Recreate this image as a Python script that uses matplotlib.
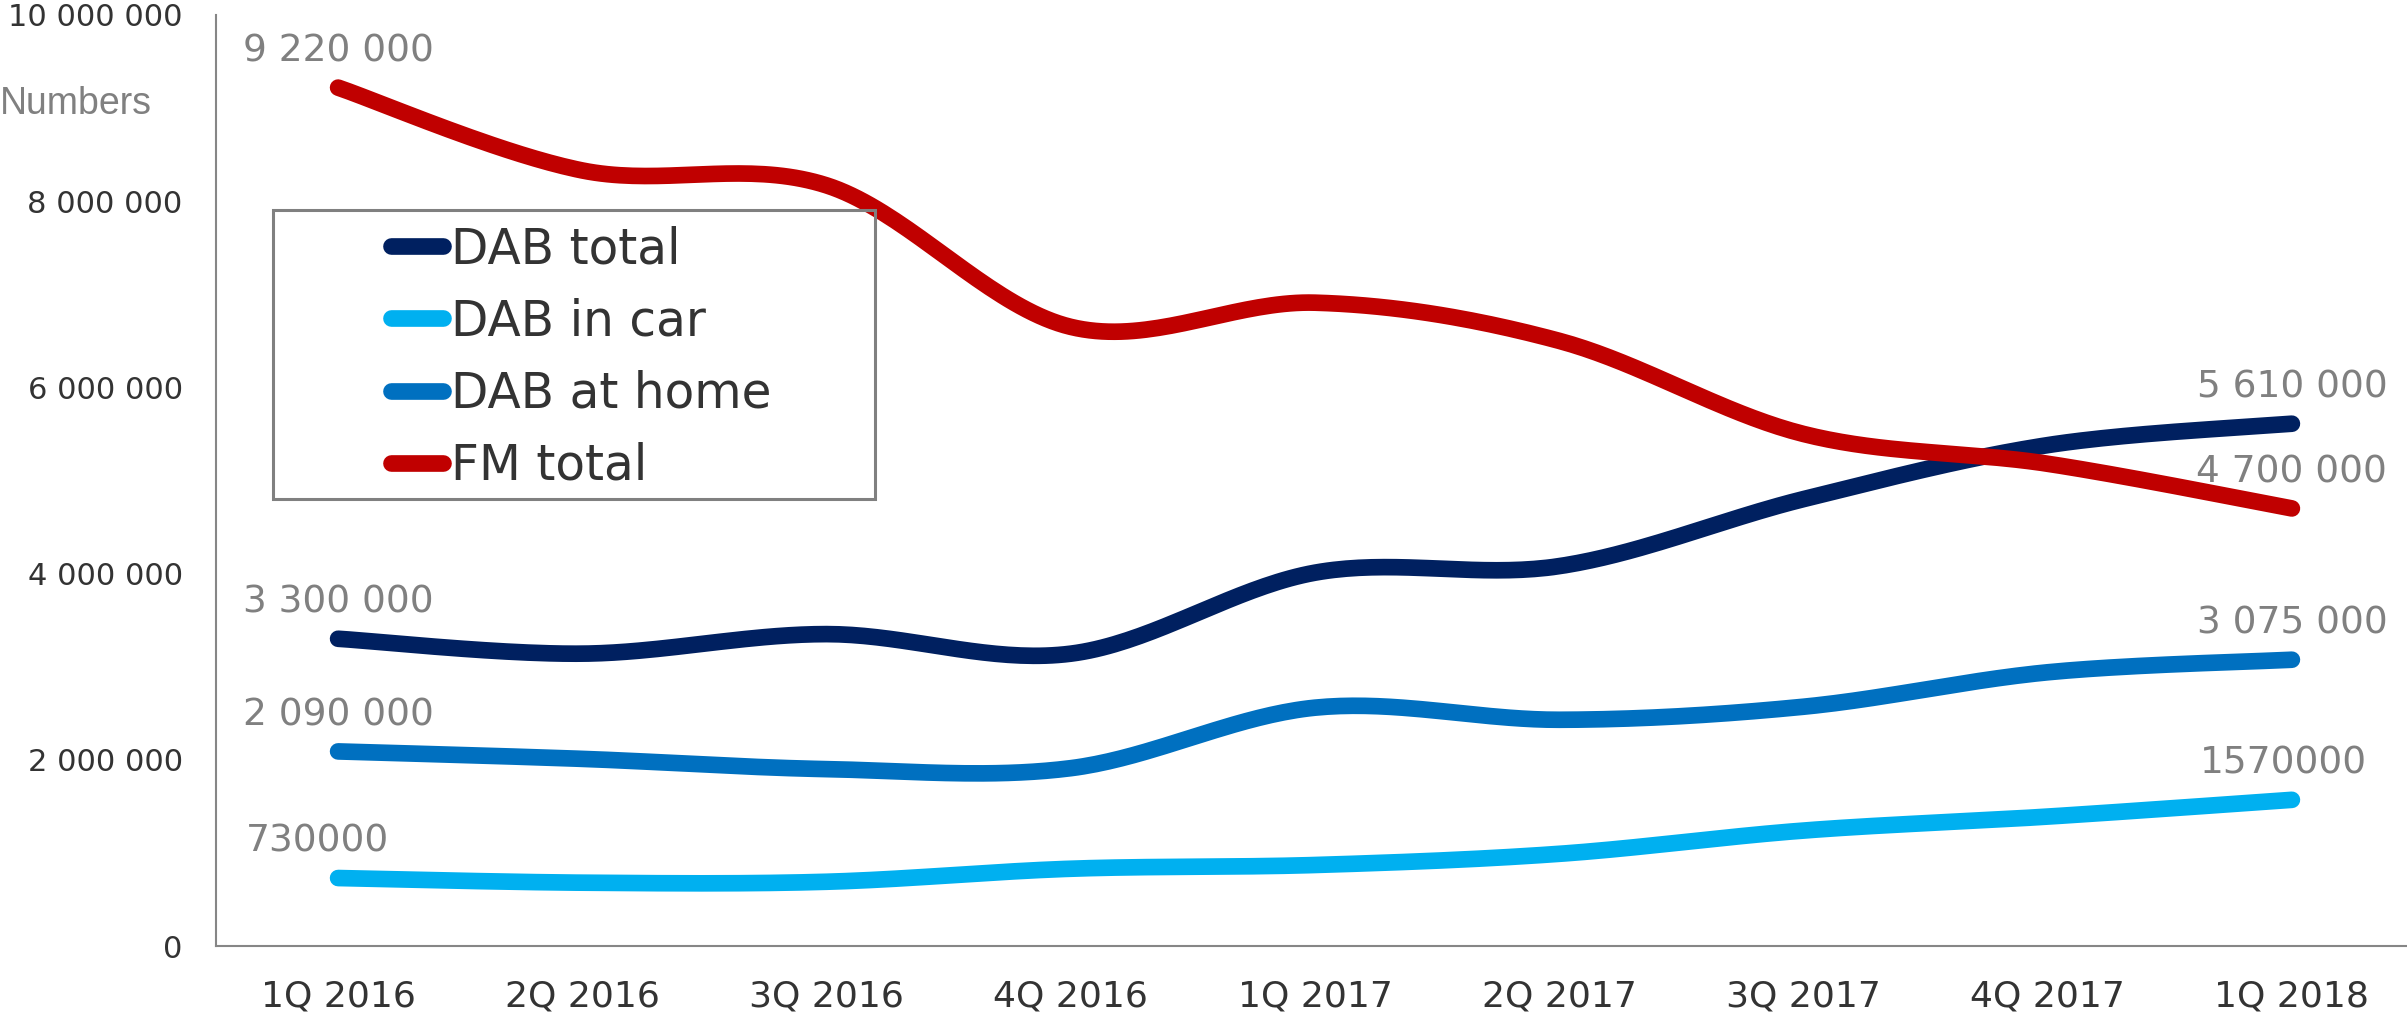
import numpy as np
import matplotlib
matplotlib.use("Agg")
import matplotlib.pyplot as plt
from matplotlib.lines import Line2D
from matplotlib.patches import Rectangle
from matplotlib.ticker import FuncFormatter

quarters = ["1Q 2016", "2Q 2016", "3Q 2016", "4Q 2016", "1Q 2017",
            "2Q 2017", "3Q 2017", "4Q 2017", "1Q 2018"]

dab_total = [3300000, 3140000, 3350000, 3140000, 4010000, 4080000, 4800000, 5380000, 5610000]
dab_car = [730000, 680000, 690000, 830000, 870000, 990000, 1240000, 1390000, 1570000]
dab_home = [2090000, 2010000, 1900000, 1910000, 2560000, 2430000, 2570000, 2940000, 3075000]
fm_total = [9220000, 8330000, 8170000, 6650000, 6910000, 6500000, 5500000, 5180000, 4700000]

series_names = ["DAB total", "DAB in car", "DAB at home", "FM total"]
# first / last value labels as shown on the chart
first_labels = ["3 300 000", "730000", "2 090 000", "9 220 000"]
last_labels = ["5 610 000", "1570000", "3 075 000", "4 700 000"]

colors = ["#002060", "#00B0F0", "#0070C0", "#C00000"]
LW = 12


def smooth(x, y, n=40):
    # Catmull-Rom style bezier, like Excel's smoothed line
    x = np.asarray(x, float)
    y = np.asarray(y, float)
    pts = np.column_stack([x, y])
    out = []
    for i in range(len(pts) - 1):
        p0 = pts[i - 1] if i > 0 else pts[i]
        p1 = pts[i]
        p2 = pts[i + 1]
        p3 = pts[i + 2] if i + 2 < len(pts) else pts[i + 1]
        c1 = p1 + (p2 - p0) / 6.0
        c2 = p2 - (p3 - p1) / 6.0
        t = np.linspace(0, 1, n)[:, None]
        seg = ((1 - t) ** 3) * p1 + 3 * ((1 - t) ** 2) * t * c1 + 3 * (1 - t) * t ** 2 * c2 + t ** 3 * p2
        out.append(seg if i == 0 else seg[1:])
    out = np.vstack(out)
    return out[:, 0], out[:, 1]


W, H = 2407, 1018
fig = plt.figure(figsize=(W / 100, H / 100), dpi=100)
ax = fig.add_axes([216 / W, 72 / H, (2414 - 216) / W, (1003 - 72) / H])

x = np.arange(len(quarters))
all_series = [dab_total, dab_car, dab_home, fm_total]
label_dx = [0, -15, 0, 0]
label_dx_end = [0, -6, 0, 0]

for vals, col, name, fl, ll, dx0, dx1 in zip(all_series, colors, series_names,
                                             first_labels, last_labels, label_dx, label_dx_end):
    xs, ys = smooth(x, vals)
    ax.plot(xs, ys, color=col, lw=LW, solid_capstyle="round", solid_joinstyle="round")
    ax.annotate(fl, (x[0], vals[0]), xytext=(dx0, 26), textcoords="offset points",
                ha="center", va="center", fontsize=27, color="#808080")
    ax.annotate(ll, (x[-1], vals[-1]), xytext=(dx1, 26), textcoords="offset points",
                ha="center", va="center", fontsize=27, color="#808080")

ax.set_xlim(-0.5, 8.5)
ax.set_ylim(0, 10000000)
ax.set_xticks(x)
ax.set_xticklabels(quarters)
ax.set_yticks(np.arange(0, 10000001, 2000000))
ax.yaxis.set_major_formatter(FuncFormatter(lambda v, p: f"{int(v):,}".replace(",", " ")))
ax.tick_params(axis="x", length=0, pad=24, labelsize=26, labelcolor="#333333")
ax.tick_params(axis="y", length=0, pad=24, labelsize=22, labelcolor="#333333")

for s in ["top", "right"]:
    ax.spines[s].set_visible(False)
for s in ["left", "bottom"]:
    ax.spines[s].set_color("#868686")
    ax.spines[s].set_linewidth(1.5)

fig.text(0, 1 - 104 / H, "Numbers", fontsize=27, color="#808080",
         family="Liberation Sans", ha="left", va="center")

# legend box
fig.patches.append(Rectangle((273 / W, 1 - 499 / H), (875 - 273) / W, (499 - 210) / H,
                             transform=fig.transFigure, fill=False,
                             edgecolor="#808080", linewidth=2.2))
handles = [Line2D([0], [0], color=c, lw=LW, solid_capstyle="round") for c in colors]
fig.legend(handles, series_names, loc="upper left", bbox_to_anchor=(391 / W, 1 - 225 / H),
           frameon=False, fontsize=35, handlelength=1.07, handletextpad=0.16,
           labelspacing=0.5, borderpad=0, borderaxespad=0, labelcolor="#333333")

fig.savefig("out.png", dpi=100)
